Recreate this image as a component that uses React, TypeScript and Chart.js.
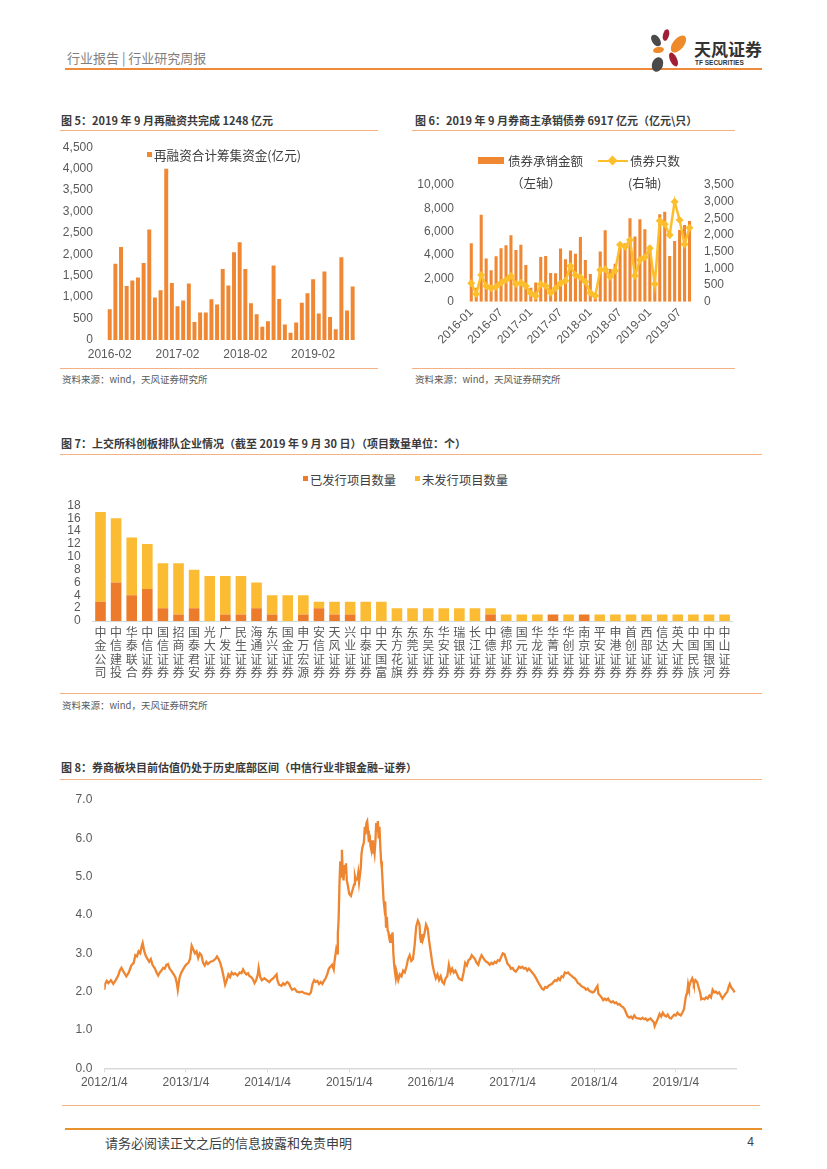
import React, { useEffect, useRef } from 'react';
import { Chart, registerables } from 'chart.js';

Chart.register(...registerables);

// ---------------- DATA ----------------
// Fig 5: monthly refinancing, 2016-02 .. 2019-09 (亿元)
const refiStart = '2016-02';
const refiValues = [720, 1780, 2170, 1260, 1390, 1460, 1800, 2580, 990, 1160, 4000, 1330, 790, 920, 1320, 420, 640, 640, 950, 830, 1660, 1270, 2050, 2280, 1660, 860, 600, 310, 440, 1740, 960, 360, 170, 410, 870, 1090, 1420, 620, 1600, 540, 250, 1930, 690, 1248];
const refiTickEvery = 12;

// Fig 6: bond underwriting, 2016-01 .. 2019-09
const bondStart = '2016-01';
const bondAmount = [5000, 1200, 7450, 3700, 2700, 3900, 4570, 4830, 5700, 4430, 4890, 3150, 1200, 1650, 3830, 3910, 2470, 2440, 4550, 3630, 4380, 4100, 5550, 3580, 2380, 600, 4300, 6120, 2800, 3250, 4600, 5000, 7150, 5580, 7070, 6200, 4580, 1400, 7500, 7700, 3920, 5200, 6150, 6580, 6917];
const bondCount = [550, 230, 800, 470, 400, 450, 570, 650, 770, 530, 570, 470, 250, 170, 520, 470, 270, 400, 550, 630, 1070, 800, 730, 600, 270, 180, 950, 970, 750, 930, 1710, 1650, 1850, 780, 1250, 1330, 1600, 530, 2430, 2320, 2000, 3000, 2450, 1720, 2220];
const bondTickEvery = 6;

// Fig 7: STAR market queue by sponsor
const sponsors = ['中金公司', '中信建投', '华泰联合', '中信证券', '国信证券', '招商证券', '国泰君安', '光大证券', '广发证券', '民生证券', '海通证券', '东兴证券', '国金证券', '申万宏源', '安信证券', '天风证券', '兴业证券', '中泰证券', '中天国富', '东方花旗', '东莞证券', '东吴证券', '华安证券', '瑞银证券', '长江证券', '中德证券', '德邦证券', '国元证券', '华龙证券', '华菁证券', '华创证券', '南京证券', '平安证券', '申港证券', '首创证券', '西部证券', '信达证券', '英大证券', '中国民族', '中国银河', '中山证券'];
const issued = [3, 6, 4, 5, 2, 1, 2, 0, 1, 1, 2, 1, 0, 1, 2, 1, 1, 0, 0, 0, 0, 0, 0, 0, 0, 1, 0, 0, 0, 1, 0, 1, 0, 0, 0, 0, 0, 0, 0, 0, 0];
const notIssued = [14, 10, 9, 7, 7, 8, 6, 7, 6, 6, 4, 3, 4, 3, 1, 2, 2, 3, 3, 2, 2, 2, 2, 2, 2, 1, 1, 1, 1, 0, 1, 0, 1, 1, 1, 1, 1, 1, 1, 1, 1];

// Fig 8: securities sector P/B (time in fractional years)
const pbYears = [
  2012.00, 2012.01, 2012.03, 2012.05, 2012.08, 2012.11, 2012.14, 2012.17, 2012.19, 2012.21, 2012.24, 2012.27, 2012.30, 2012.33, 2012.36, 2012.38, 2012.40, 2012.42, 2012.44, 2012.46, 2012.47, 2012.49,
  2012.51, 2012.53, 2012.55, 2012.57, 2012.59, 2012.62, 2012.64, 2012.66, 2012.68, 2012.70, 2012.72, 2012.74, 2012.76, 2012.78, 2012.80, 2012.82, 2012.85, 2012.87, 2012.89, 2012.90, 2012.92, 2012.94, 2012.97,
  2013.00, 2013.03, 2013.05, 2013.07, 2013.09, 2013.11, 2013.13, 2013.15, 2013.17, 2013.19, 2013.21, 2013.23, 2013.25, 2013.27, 2013.30, 2013.33, 2013.36, 2013.38, 2013.40, 2013.42, 2013.44, 2013.46, 2013.48,
  2013.50, 2013.52, 2013.54, 2013.56, 2013.58, 2013.60, 2013.63, 2013.66, 2013.68, 2013.70, 2013.72, 2013.74, 2013.76, 2013.78, 2013.80, 2013.82, 2013.84, 2013.86, 2013.88, 2013.89, 2013.91, 2013.93, 2013.96, 2013.99,
  2014.02, 2014.04, 2014.07, 2014.09, 2014.11, 2014.12, 2014.14, 2014.17, 2014.19, 2014.21, 2014.24, 2014.26, 2014.28, 2014.30, 2014.33, 2014.36, 2014.39, 2014.42, 2014.45, 2014.48,
  2014.51, 2014.53, 2014.55, 2014.57, 2014.59, 2014.61, 2014.63, 2014.65, 2014.67, 2014.69, 2014.71, 2014.73, 2014.75, 2014.77, 2014.79, 2014.81, 2014.82, 2014.84, 2014.85, 2014.86, 2014.87, 2014.88, 2014.89,
  2014.90, 2014.91, 2014.92, 2014.93, 2014.94, 2014.95, 2014.96, 2014.97, 2014.98,
  2015.00, 2015.02, 2015.04, 2015.06, 2015.07, 2015.08, 2015.10, 2015.11, 2015.12, 2015.14, 2015.15, 2015.16, 2015.18, 2015.19, 2015.20, 2015.21, 2015.22, 2015.23, 2015.24, 2015.25, 2015.26, 2015.27, 2015.28, 2015.29,
  2015.30, 2015.31, 2015.32, 2015.33, 2015.34, 2015.35, 2015.36, 2015.37, 2015.38, 2015.39, 2015.40, 2015.41, 2015.42, 2015.43, 2015.44, 2015.45, 2015.46, 2015.47, 2015.48, 2015.49,
  2015.50, 2015.51, 2015.52, 2015.53, 2015.54, 2015.55, 2015.56, 2015.57, 2015.58, 2015.59, 2015.60, 2015.62, 2015.64, 2015.66, 2015.68, 2015.70, 2015.72, 2015.74, 2015.76, 2015.78,
  2015.80, 2015.82, 2015.84, 2015.86, 2015.87, 2015.88, 2015.89, 2015.90, 2015.92, 2015.94, 2015.96, 2015.98,
  2016.00, 2016.02, 2016.04, 2016.06, 2016.08, 2016.10, 2016.12, 2016.14, 2016.16, 2016.18, 2016.20, 2016.22, 2016.24, 2016.26, 2016.28, 2016.30, 2016.32, 2016.34, 2016.36, 2016.38, 2016.40, 2016.42, 2016.44, 2016.46, 2016.48,
  2016.50, 2016.52, 2016.54, 2016.56, 2016.58, 2016.60, 2016.62, 2016.64, 2016.66, 2016.68, 2016.70, 2016.72, 2016.74, 2016.76, 2016.78, 2016.80, 2016.82, 2016.84, 2016.86, 2016.88, 2016.90, 2016.92, 2016.94, 2016.96, 2016.98,
  2017.00, 2017.02, 2017.04, 2017.06, 2017.08, 2017.10, 2017.12, 2017.14, 2017.16, 2017.18, 2017.20, 2017.22, 2017.24, 2017.26, 2017.28, 2017.30, 2017.32, 2017.34, 2017.36, 2017.38, 2017.40, 2017.42, 2017.44, 2017.46, 2017.48,
  2017.50, 2017.52, 2017.54, 2017.56, 2017.58, 2017.60, 2017.62, 2017.64, 2017.66, 2017.68, 2017.70, 2017.72, 2017.74, 2017.76, 2017.78, 2017.80, 2017.82, 2017.84, 2017.86, 2017.88, 2017.90, 2017.92, 2017.94, 2017.96, 2017.98,
  2018.00, 2018.02, 2018.04, 2018.05, 2018.07, 2018.09, 2018.11, 2018.13, 2018.15, 2018.17, 2018.19, 2018.21, 2018.23, 2018.25, 2018.27, 2018.29, 2018.31, 2018.33, 2018.35, 2018.37, 2018.39, 2018.41, 2018.43, 2018.45, 2018.47, 2018.49,
  2018.51, 2018.53, 2018.55, 2018.57, 2018.59, 2018.61, 2018.63, 2018.65, 2018.67, 2018.69, 2018.71, 2018.73, 2018.74, 2018.76, 2018.78, 2018.80, 2018.82, 2018.84, 2018.86, 2018.88, 2018.90, 2018.92, 2018.94, 2018.96, 2018.98,
  2019.00, 2019.02, 2019.04, 2019.06, 2019.08, 2019.10, 2019.12, 2019.14, 2019.15, 2019.16, 2019.18, 2019.20, 2019.21, 2019.22, 2019.24, 2019.26, 2019.28, 2019.30, 2019.31, 2019.33, 2019.35, 2019.37, 2019.39, 2019.41, 2019.43, 2019.45, 2019.47, 2019.49,
  2019.51, 2019.53, 2019.55, 2019.57, 2019.59, 2019.61, 2019.63, 2019.65, 2019.66, 2019.68, 2019.70, 2019.72,
];
const pbValues = [
  2.05, 2.2, 2.28, 2.22, 2.3, 2.2, 2.3, 2.42, 2.55, 2.62, 2.5, 2.4, 2.5, 2.68, 2.75, 2.95, 2.92, 3.05, 3.0, 3.2, 3.27, 3.05,
  2.92, 2.85, 2.78, 2.85, 2.7, 2.6, 2.5, 2.42, 2.5, 2.55, 2.62, 2.6, 2.7, 2.72, 2.6, 2.55, 2.45, 2.38, 2.2, 2.05, 2.35, 2.48, 2.6,
  2.7, 2.75, 2.85, 3.2, 3.1, 3.0, 3.05, 2.88, 3.0, 2.95, 2.75, 2.68, 2.78, 2.72, 2.78, 2.8, 2.85, 2.92, 2.85, 2.75, 2.6, 2.4, 2.18,
  2.3, 2.45, 2.38, 2.5, 2.45, 2.48, 2.42, 2.5, 2.48, 2.58, 2.5, 2.45, 2.48, 2.4, 2.38, 2.32, 2.22, 2.3, 2.45, 2.62, 2.38, 2.3, 2.35, 2.3,
  2.25, 2.3, 2.35, 2.4, 2.45, 2.3, 2.18, 2.15, 2.22, 2.18, 2.25, 2.22, 2.12, 2.05, 2.08, 2.0, 1.98, 2.0, 1.96, 1.95,
  1.93, 1.98, 2.2, 2.3, 2.25, 2.28, 2.2, 2.25, 2.2, 2.28, 2.35, 2.45, 2.6, 2.65, 2.7, 2.58, 2.8, 3.1, 3.0, 3.5, 3.9, 4.8, 5.4,
  5.0, 5.7, 5.1, 4.9, 5.3, 5.1, 5.35, 4.9, 4.8,
  4.55, 4.5, 4.65, 4.8, 5.0, 4.9, 4.95, 5.1, 4.85, 5.2, 5.6, 5.75, 5.9, 6.3, 6.1, 6.4, 6.45, 6.2, 5.9, 6.1, 5.8, 5.7, 5.95, 5.6,
  5.75, 5.6, 5.9, 6.4, 6.2, 6.45, 6.0, 6.3, 5.8, 5.4, 5.2, 4.8, 4.4, 4.2, 4.35, 3.7, 3.95, 3.6, 3.55, 3.4,
  3.3, 3.5, 3.3, 3.55, 3.0, 2.7, 2.5, 2.35, 2.5, 2.4, 2.3, 2.45, 2.4, 2.55, 2.5, 2.65, 2.85, 2.95, 2.8, 2.85,
  3.2, 3.7, 3.85, 3.75, 3.4, 3.3, 3.5, 3.35, 3.5, 3.75, 3.65, 3.3,
  3.0, 2.7, 2.5, 2.35, 2.45, 2.3, 2.4, 2.25, 2.2, 2.35, 2.4, 2.7, 2.5, 2.6, 2.5, 2.55, 2.45, 2.35, 2.32, 2.3, 2.5, 2.75, 2.68, 2.82, 2.85,
  2.95, 2.9, 2.85, 2.75, 2.7, 2.85, 2.95, 2.88, 2.82, 2.78, 2.75, 2.7, 2.75, 2.72, 2.78, 2.75, 2.82, 2.8, 2.9, 3.0, 2.98, 2.85, 2.72, 2.68, 2.6,
  2.62, 2.55, 2.52, 2.58, 2.65, 2.62, 2.65, 2.6, 2.62, 2.55, 2.6, 2.55, 2.5, 2.45, 2.38, 2.3, 2.22, 2.15, 2.08, 2.05, 2.12, 2.1, 2.15, 2.18, 2.2,
  2.25, 2.3, 2.28, 2.35, 2.3, 2.4, 2.38, 2.5, 2.48, 2.5, 2.45, 2.42, 2.38, 2.35, 2.3, 2.22, 2.2, 2.15, 2.12, 2.1, 2.05, 2.08, 2.02, 2.0, 1.98,
  2.0, 2.08, 2.15, 1.95, 1.9, 1.85, 1.78, 1.82, 1.78, 1.82, 1.75, 1.72, 1.75, 1.7, 1.72, 1.66, 1.68, 1.62, 1.6, 1.55, 1.45, 1.35, 1.32, 1.35, 1.3, 1.38,
  1.32, 1.3, 1.3, 1.28, 1.32, 1.28, 1.3, 1.25, 1.28, 1.3, 1.25, 1.2, 1.1, 1.2, 1.3, 1.42, 1.35, 1.45, 1.38, 1.35, 1.4, 1.32, 1.3, 1.35, 1.4,
  1.38, 1.45, 1.4, 1.38, 1.45, 1.55, 1.85, 2.0, 2.2, 2.1, 2.25, 2.35, 2.3, 2.2, 2.3, 2.25, 2.1, 1.95, 1.8, 1.82, 1.8, 1.85, 1.82, 1.9, 1.85, 2.05, 1.98, 2.0,
  1.95, 1.98, 1.9, 1.82, 1.88, 1.95, 2.0, 2.15, 2.2, 2.1, 2.05, 1.98,
];
const pbTickYears = [2012, 2013, 2014, 2015, 2016, 2017, 2018, 2019];
const pbTickLabels = ['2012/1/4', '2013/1/4', '2014/1/4', '2015/1/4', '2016/1/4', '2017/1/4', '2018/1/4', '2019/1/4'];

// ---------------- STYLE ----------------
const NUM_FONT = "'Liberation Sans', 'Noto Sans CJK SC', sans-serif";
const CJK_FONT = "'Noto Sans CJK SC', 'Liberation Sans', sans-serif";
const TICK_COLOR = '#595959';
const BAR_ORANGE = '#EF8733';
const LINE_YELLOW = '#FDBE2C';
const ISSUED_COLOR = '#EC7C2B';
const UNISSUED_COLOR = '#FBBC33';
const PB_COLOR = '#EE8530';
const RULE_COLOR = '#F4B183';

function monthLabels(start: string, n: number): string[] {
  const [y0, m0] = start.split('-').map(Number);
  const out: string[] = [];
  for (let i = 0; i < n; i++) {
    const t = (m0 - 1) + i;
    const y = y0 + Math.floor(t / 12);
    const m = (t % 12) + 1;
    out.push(`${y}-${m < 10 ? '0' + m : m}`);
  }
  return out;
}

const refiMonths = monthLabels(refiStart, refiValues.length);
const bondMonths = monthLabels(bondStart, bondAmount.length);

// ---------------- HELPERS ----------------
function ChartBox({ left, top, width, height, make }: { left: number; top: number; width: number; height: number; make: () => any }) {
  const ref = useRef<HTMLCanvasElement>(null);
  useEffect(() => {
    const chart = new Chart(ref.current as HTMLCanvasElement, make());
    return () => chart.destroy();
  }, []);
  return (
    <canvas ref={ref} width={width} height={height}
      style={{ position: 'absolute', left, top, width, height }} />
  );
}

function Txt({ x, y, size, children, color = '#404040', bold = false, font = CJK_FONT, anchor = 'left' }: any) {
  const tx = anchor === 'center' ? '-50%' : anchor === 'right' ? '-100%' : '0';
  return (
    <div style={{
      position: 'absolute', left: x, top: y, transform: `translate(${tx}, -50%)`,
      fontSize: size, lineHeight: 1, whiteSpace: 'nowrap', color, fontWeight: bold ? 700 : 400, fontFamily: font,
    }}>{children}</div>
  );
}

function HLine({ x1, x2, y, color = RULE_COLOR, t = 1 }: any) {
  return <div style={{ position: 'absolute', left: x1, top: y - t / 2, width: x2 - x1, height: t, background: color }} />;
}

const tickFont = (size = 12, family = NUM_FONT) => ({ size, family });

// fix a vertical axis width and stop its tick padding from pushing the plot area
const fixYAxis = (w: number) => (s: any) => { s.width = w; s.paddingTop = 0; s.paddingBottom = 0; };

// ---------------- CHART CONFIGS ----------------
function makeFig5() {
  return {
    type: 'bar',
    data: {
      labels: refiMonths,
      datasets: [{ label: '再融资合计筹集资金(亿元)', data: refiValues, backgroundColor: BAR_ORANGE, borderWidth: 0, barPercentage: 0.7, categoryPercentage: 1 }],
    },
    options: {
      animation: false, responsive: false, maintainAspectRatio: false,
      layout: { padding: { top: 12.3, right: 14.5, left: 0, bottom: 0 } },
      plugins: { legend: { display: false }, tooltip: { enabled: false } },
      scales: {
        x: {
          grid: { display: false, drawTicks: false }, border: { display: false },
          ticks: {
            autoSkip: false, maxRotation: 0, minRotation: 0, padding: 7, color: TICK_COLOR, font: tickFont(12),
            callback: (_v: any, i: number) => (i % refiTickEvery === 0 ? refiMonths[i] : ''),
          },
          afterFit: (s: any) => { s.height = 25; },
        },
        y: {
          min: 0, max: 4500,
          grid: { display: false, drawTicks: false }, border: { display: false },
          ticks: { autoSkip: false, stepSize: 500, padding: 14, color: TICK_COLOR, font: tickFont(12), callback: (v: number) => v.toLocaleString('en-US') },
          afterFit: fixYAxis(46.9),
        },
      },
    },
  };
}

function makeFig6() {
  return {
    type: 'bar',
    data: {
      labels: bondMonths,
      datasets: [
        { type: 'line', label: '债券只数', data: bondCount, yAxisID: 'y1', borderColor: LINE_YELLOW, backgroundColor: LINE_YELLOW, borderWidth: 2.5, pointStyle: 'rectRot', pointRadius: 4, pointBackgroundColor: LINE_YELLOW, pointBorderWidth: 0, order: 0, tension: 0 },
        { type: 'bar', label: '债券承销金额', data: bondAmount, yAxisID: 'y', backgroundColor: BAR_ORANGE, borderWidth: 0, barPercentage: 0.62, categoryPercentage: 1, order: 1 },
      ],
    },
    options: {
      animation: false, responsive: false, maintainAspectRatio: false,
      layout: { padding: { top: 15, right: 0, left: 0, bottom: 0 } },
      plugins: { legend: { display: false }, tooltip: { enabled: false } },
      scales: {
        x: {
          grid: { display: false, drawTicks: false }, border: { display: false },
          ticks: {
            autoSkip: false, maxRotation: 45, minRotation: 45, padding: 4, color: TICK_COLOR, font: tickFont(12),
            callback: (_v: any, i: number) => (i % bondTickEvery === 0 ? bondMonths[i] : ''),
          },
          afterFit: (s: any) => { s.height = 58.3; },
        },
        y: {
          position: 'left', min: 0, max: 10000,
          grid: { display: false, drawTicks: false }, border: { display: false },
          ticks: { autoSkip: false, stepSize: 2000, padding: 14.8, color: TICK_COLOR, font: tickFont(12), callback: (v: number) => v.toLocaleString('en-US') },
          afterFit: fixYAxis(56.8),
        },
        y1: {
          position: 'right', min: 0, max: 3500,
          grid: { display: false, drawTicks: false }, border: { display: false },
          ticks: { autoSkip: false, stepSize: 500, padding: 12, color: TICK_COLOR, font: tickFont(12), callback: (v: number) => v.toLocaleString('en-US') },
          afterFit: fixYAxis(43),
        },
      },
    },
  };
}

function makeFig7() {
  return {
    type: 'bar',
    data: {
      labels: sponsors.map((s) => s.split('')),
      datasets: [
        { label: '已发行项目数量', data: issued, backgroundColor: ISSUED_COLOR, borderWidth: 0, barPercentage: 0.68, categoryPercentage: 1 },
        { label: '未发行项目数量', data: notIssued, backgroundColor: UNISSUED_COLOR, borderWidth: 0, barPercentage: 0.68, categoryPercentage: 1 },
      ],
    },
    options: {
      animation: false, responsive: false, maintainAspectRatio: false,
      layout: { padding: { top: 10.5, right: 27.6, left: 0, bottom: 0 } },
      plugins: { legend: { display: false }, tooltip: { enabled: false } },
      scales: {
        x: {
          stacked: true,
          grid: { display: false, drawTicks: false }, border: { display: true, color: '#D9D9D9', width: 1 },
          ticks: { autoSkip: false, maxRotation: 0, minRotation: 0, padding: 5, color: TICK_COLOR, font: { size: 12, family: CJK_FONT, lineHeight: 1.1 } },
          afterFit: (s: any) => { s.height = 69; },
        },
        y: {
          stacked: true, min: 0, max: 18,
          grid: { display: false, drawTicks: false }, border: { display: false },
          ticks: { autoSkip: false, stepSize: 2, padding: 12, color: TICK_COLOR, font: tickFont(12) },
          afterFit: fixYAxis(32.7),
        },
      },
    },
  };
}

function makeFig8() {
  return {
    type: 'line',
    data: {
      datasets: [{
        label: 'PB', data: pbYears.map((x, i) => ({ x, y: pbValues[i] })),
        borderColor: PB_COLOR, borderWidth: 2.3, pointRadius: 0, tension: 0, fill: false,
      }],
    },
    options: {
      animation: false, responsive: false, maintainAspectRatio: false,
      layout: { padding: { top: 10, right: 13.7, left: 0, bottom: 0 } },
      plugins: { legend: { display: false }, tooltip: { enabled: false } },
      scales: {
        x: {
          type: 'linear', min: 2012, max: 2019.74,
          afterBuildTicks: (s: any) => { s.ticks = pbTickYears.map((v) => ({ value: v })); },
          grid: { display: true, drawOnChartArea: false, drawTicks: true, tickLength: 4, color: '#D9D9D9' },
          border: { display: true, color: '#D9D9D9', width: 1.5 },
          ticks: {
            autoSkip: false, maxRotation: 0, minRotation: 0, padding: 3, color: TICK_COLOR, font: tickFont(12),
            callback: (v: number) => { const i = pbTickYears.indexOf(Math.round(v)); return i >= 0 ? pbTickLabels[i] : ''; },
          },
          afterFit: (s: any) => { s.height = 26.7; },
        },
        y: {
          min: 0, max: 7,
          grid: { display: false, drawTicks: false }, border: { display: false },
          ticks: { autoSkip: false, stepSize: 1, padding: 12, color: TICK_COLOR, font: tickFont(12), callback: (v: number) => v.toFixed(1) },
          afterFit: fixYAxis(44.3),
        },
      },
    },
  };
}

// ---------------- PAGE ----------------
const petals = [
  { cx: 666, cy: 35, w: 6, h: 12, rot: 15, color: '#A11F36' },
  { cx: 678, cy: 44, w: 11, h: 20, rot: 40, color: '#EE8A2A' },
  { cx: 656, cy: 40, w: 8, h: 13, rot: -35, color: '#4A4A4A' },
  { cx: 658, cy: 50, w: 11, h: 6, rot: -10, color: '#EE8A2A' },
  { cx: 673, cy: 59, w: 7, h: 15, rot: -25, color: '#A11F36' },
  { cx: 657, cy: 64, w: 11, h: 15, rot: 20, color: '#4A4A4A' },
];

export default function App() {
  return (
    <div style={{ position: 'absolute', left: 0, top: 0, width: 827, height: 1169, background: '#fff', overflow: 'hidden' }}>
      {/* Header */}
      <Txt x={67} y={57} size={13} color="#7F7F7F">行业报告 | 行业研究周报</Txt>
      <HLine x1={65} x2={762} y={69} color="#EE8A3C" t={2} />
      {petals.map((p, i) => (
        <div key={i} style={{ position: 'absolute', left: p.cx - p.w / 2, top: p.cy - p.h / 2, width: p.w, height: p.h, borderRadius: '50%', background: p.color, transform: `rotate(${p.rot}deg)` }} />
      ))}
      <Txt x={694} y={48} size={17} bold color="#333">天风证券</Txt>
      <Txt x={695} y={63} size={6.5} bold color="#333" font={NUM_FONT}>TF SECURITIES</Txt>

      {/* Fig 5 */}
      <Txt x={61} y={120} size={11} bold color="#3A3A3A">图 5：2019 年 9 月再融资共完成 1248 亿元</Txt>
      <HLine x1={60} x2={378} y={130} />
      <ChartBox left={60} top={135} width={310} height={230} make={makeFig5} />
      <div style={{ position: 'absolute', left: 146.7, top: 151.7, width: 5, height: 5, background: BAR_ORANGE }} />
      <Txt x={154} y={155} size={12.6} color="#404040">再融资合计筹集资金(亿元)</Txt>
      <HLine x1={60} x2={378} y={368} />
      <Txt x={62} y={380} size={9.5} color="#595959">资料来源：wind，天风证券研究所</Txt>

      {/* Fig 6 */}
      <Txt x={415} y={120} size={11} bold color="#3A3A3A">图 6：2019 年 9 月券商主承销债券 6917 亿元（亿元\只）</Txt>
      <HLine x1={412} x2={735} y={130} />
      <ChartBox left={412} top={170} width={323} height={190} make={makeFig6} />
      <div style={{ position: 'absolute', left: 478, top: 157, width: 26, height: 6.5, background: BAR_ORANGE }} />
      <Txt x={508} y={161} size={12.5} color="#404040">债券承销金额</Txt>
      <Txt x={511} y={183} size={12.5} color="#404040">（左轴）</Txt>
      <div style={{ position: 'absolute', left: 598, top: 159.5, width: 30, height: 2.5, background: LINE_YELLOW }} />
      <div style={{ position: 'absolute', left: 609, top: 157, width: 7, height: 7, background: LINE_YELLOW, transform: 'rotate(45deg)' }} />
      <Txt x={630} y={161} size={12.5} color="#404040">债券只数</Txt>
      <Txt x={628} y={183} size={12.5} color="#404040">(右轴)</Txt>
      <HLine x1={412} x2={735} y={368} />
      <Txt x={415} y={380} size={9.5} color="#595959">资料来源：wind，天风证券研究所</Txt>

      {/* Fig 7 */}
      <Txt x={61} y={443} size={11} bold color="#3A3A3A">图 7：上交所科创板排队企业情况（截至 2019 年 9 月 30 日）（项目数量单位：个）</Txt>
      <HLine x1={60} x2={762} y={454} />
      <div style={{ position: 'absolute', left: 303, top: 476, width: 5, height: 5, background: ISSUED_COLOR }} />
      <Txt x={310} y={480} size={12.3} color="#404040">已发行项目数量</Txt>
      <div style={{ position: 'absolute', left: 415, top: 476, width: 5, height: 5, background: UNISSUED_COLOR }} />
      <Txt x={422} y={480} size={12.3} color="#404040">未发行项目数量</Txt>
      <ChartBox left={60} top={495} width={700} height={195} make={makeFig7} />
      <HLine x1={60} x2={762} y={693} />
      <Txt x={62} y={706} size={9.5} color="#595959">资料来源：wind，天风证券研究所</Txt>

      {/* Fig 8 */}
      <Txt x={61} y={767} size={11} bold color="#3A3A3A">图 8：券商板块目前估值仍处于历史底部区间（中信行业非银金融–证券）</Txt>
      <HLine x1={60} x2={762} y={779} />
      <ChartBox left={60} top={790} width={690} height={305} make={makeFig8} />
      <HLine x1={62} x2={760} y={1105} />

      {/* Footer */}
      <HLine x1={65} x2={762} y={1129} color="#E8922E" t={2.5} />
      <Txt x={105} y={1142} size={13} color="#404040">请务必阅读正文之后的信息披露和免责申明</Txt>
      <Txt x={754} y={1142} size={12} color="#404040" font={NUM_FONT} anchor="right">4</Txt>
    </div>
  );
}
